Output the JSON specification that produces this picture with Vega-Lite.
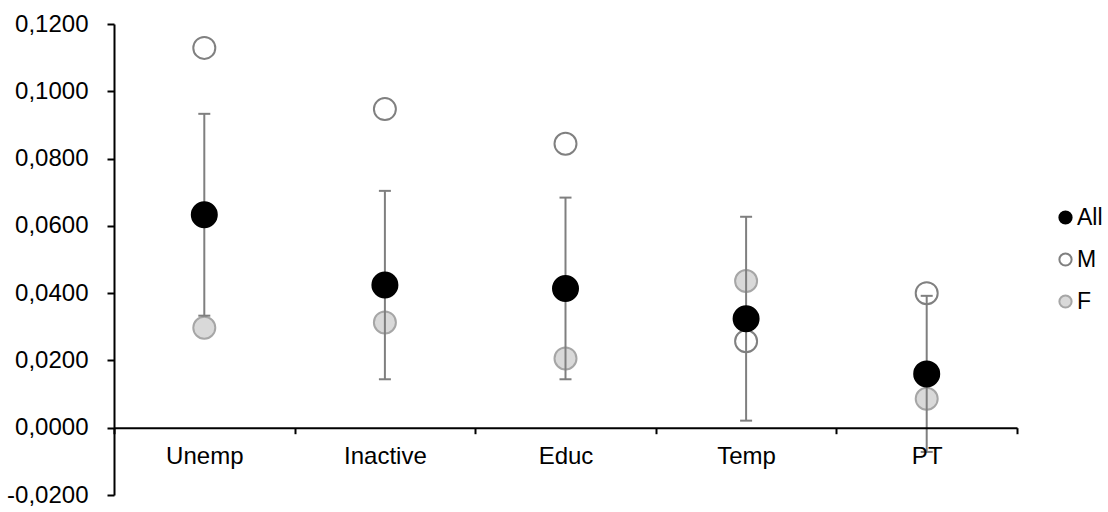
{
  "$schema": "https://vega.github.io/schema/vega-lite/v6.json",
  "autosize": {"type": "none"},
  "width": 903,
  "height": 471,
  "padding": {"left": 114, "top": 24, "right": 91, "bottom": 17},
  "background": "#ffffff",
  "datasets": {
    "points": [
      {"cat": "Unemp", "series": "M", "value": 0.1129},
      {"cat": "Inactive", "series": "M", "value": 0.0947},
      {"cat": "Educ", "series": "M", "value": 0.0844},
      {"cat": "Temp", "series": "M", "value": 0.0257},
      {"cat": "PT", "series": "M", "value": 0.0400},
      {"cat": "Unemp", "series": "F", "value": 0.0297},
      {"cat": "Inactive", "series": "F", "value": 0.0313},
      {"cat": "Educ", "series": "F", "value": 0.0206},
      {"cat": "Temp", "series": "F", "value": 0.0436},
      {"cat": "PT", "series": "F", "value": 0.0086},
      {"cat": "Unemp", "series": "All", "value": 0.0633},
      {"cat": "Inactive", "series": "All", "value": 0.0424},
      {"cat": "Educ", "series": "All", "value": 0.0414},
      {"cat": "Temp", "series": "All", "value": 0.0324},
      {"cat": "PT", "series": "All", "value": 0.0160}
    ],
    "errors": [
      {"cat": "Unemp", "lo": 0.0333, "hi": 0.0933},
      {"cat": "Inactive", "lo": 0.0144, "hi": 0.0704},
      {"cat": "Educ", "lo": 0.0144, "hi": 0.0684},
      {"cat": "Temp", "lo": 0.0021, "hi": 0.0627},
      {"cat": "PT", "lo": -0.0072, "hi": 0.0392}
    ]
  },
  "config": {
    "view": {"stroke": null},
    "axis": {
      "grid": false,
      "labelFont": "Liberation Sans",
      "labelFontSize": 24,
      "labelColor": "#000000",
      "domainColor": "#000000",
      "domainWidth": 2,
      "tickColor": "#000000",
      "tickWidth": 2,
      "title": null
    },
    "legend": {
      "labelFont": "Liberation Sans",
      "labelFontSize": 23,
      "labelColor": "#000000"
    }
  },
  "layer": [
    {
      "data": {"name": "points"},
      "transform": [{"filter": "datum.series !== 'All'"}],
      "mark": {"type": "point", "shape": "circle", "strokeWidth": 2, "opacity": 1},
      "encoding": {
        "x": {
          "field": "cat", "type": "nominal",
          "sort": ["Unemp", "Inactive", "Educ", "Temp", "PT"],
          "scale": {"type": "band", "paddingInner": 0, "paddingOuter": 0},
          "axis": {"title": null, "labelAngle": 0, "offset": -67.3, "tickBand": "extent", "tickSize": 6, "labelPadding": 11, "zindex": 1}
        },
        "y": {
          "field": "value", "type": "quantitative",
          "scale": {"domain": [-0.02, 0.12], "nice": false, "zero": false},
          "axis": {
            "title": null,
            "values": [-0.02, 0, 0.02, 0.04, 0.06, 0.08, 0.1, 0.12],
            "labelExpr": "replace(replace(format(datum.value, '.4f'), '.', ','), '\u2212', '-')",
            "tickSize": 7,
            "labelPadding": 19
          }
        },
        "fill": {
          "field": "series", "type": "nominal",
          "scale": {"domain": ["All", "M", "F"], "range": ["#000000", "rgba(255,255,255,0)", "#d9d9d9"]},
          "legend": {"title": null, "orient": "none", "legendX": 940, "legendY": 182, "symbolSize": 150, "symbolStrokeWidth": 2, "rowPadding": 18, "labelOffset": 0, "symbolType": "circle"}
        },
        "stroke": {
          "field": "series", "type": "nominal",
          "scale": {"domain": ["All", "M", "F"], "range": ["#000000", "#808080", "#a6a6a6"]},
          "legend": {"title": null, "orient": "none", "legendX": 940, "legendY": 182, "symbolSize": 150, "symbolStrokeWidth": 2, "rowPadding": 18, "labelOffset": 0, "symbolType": "circle"}
        },
        "size": {"value": 484}
      }
    },
    {
      "data": {"name": "errors"},
      "mark": {"type": "rule", "color": "#7f7f7f", "strokeWidth": 2},
      "encoding": {
        "x": {"field": "cat", "type": "nominal", "sort": ["Unemp", "Inactive", "Educ", "Temp", "PT"]},
        "y": {"field": "lo", "type": "quantitative"},
        "y2": {"field": "hi"}
      }
    },
    {
      "data": {"name": "errors"},
      "mark": {"type": "tick", "orient": "horizontal", "color": "#7f7f7f", "size": 12, "thickness": 2, "opacity": 1},
      "encoding": {
        "x": {"field": "cat", "type": "nominal", "sort": ["Unemp", "Inactive", "Educ", "Temp", "PT"]},
        "y": {"field": "lo", "type": "quantitative"}
      }
    },
    {
      "data": {"name": "errors"},
      "mark": {"type": "tick", "orient": "horizontal", "color": "#7f7f7f", "size": 12, "thickness": 2, "opacity": 1},
      "encoding": {
        "x": {"field": "cat", "type": "nominal", "sort": ["Unemp", "Inactive", "Educ", "Temp", "PT"]},
        "y": {"field": "hi", "type": "quantitative"}
      }
    },
    {
      "data": {"name": "points"},
      "transform": [{"filter": "datum.series === 'All'"}],
      "mark": {"type": "point", "shape": "circle", "strokeWidth": 2, "opacity": 1},
      "encoding": {
        "x": {"field": "cat", "type": "nominal", "sort": ["Unemp", "Inactive", "Educ", "Temp", "PT"]},
        "y": {"field": "value", "type": "quantitative"},
        "fill": {"field": "series", "type": "nominal"},
        "stroke": {"field": "series", "type": "nominal"},
        "size": {"value": 625}
      }
    }
  ]
}
